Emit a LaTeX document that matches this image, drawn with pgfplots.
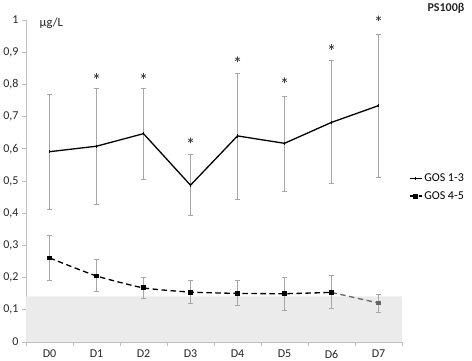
\documentclass[border=0pt]{standalone}
\usepackage{fontspec}
\setmainfont{Carlito}
\usepackage{pgfplots}
\pgfplotsset{compat=1.18}
\definecolor{band}{HTML}{EBEBEB}
\definecolor{errc}{HTML}{A6A6A6}
\definecolor{axc}{HTML}{BFBFBF}
\begin{document}
\begin{tikzpicture}[x=1pt,y=1pt]
\begin{axis}[
  at={(26pt,19pt)}, anchor=south west,
  scale only axis, width=376pt, height=322pt,
  xmin=-0.5, xmax=7.5, ymin=0, ymax=1,
  axis lines=left,
  axis line style={-, draw=axc, line width=0.8pt},
  tick align=outside,
  xtick={0,...,7},
  xticklabels={D0,D1,D2,D3,D4,D5,D6,D7},
  minor xtick={-0.5,0.5,...,7.5},
  x tick style={draw=none},
  minor x tick style={draw=axc, line width=0.8pt},
  minor tick length=4pt,
  ytick={0,0.1,...,1.01},
  y tick style={draw=axc, line width=0.8pt},
  major tick length=4pt,
  /pgf/number format/use comma,
  /pgf/number format/assume math mode=true,
  ticklabel style={font=\fontsize{12}{14}\selectfont, text=black!85},
  xticklabel style={yshift=-0.5pt},
  clip=false,
  legend style={at={(1.018,0.48)}, anchor=west, draw=none, fill=none,
    font=\fontsize{12}{14}\selectfont, row sep=4pt, inner sep=0pt},
  legend cell align=left,
  legend image code/.code={\draw[mark repeat=2,mark phase=2,#1] plot coordinates {(0pt,0pt)(6pt,0pt)(12pt,0pt)};},
  error bars/error bar style={draw=errc, line width=0.8pt, solid},
  error bars/error mark options={rotate=90, mark size=2.5pt, draw=errc, line width=0.8pt, solid},
]
% reference band
\addplot[fill=band, draw=none, forget plot] coordinates {(-0.5,0) (-0.5,0.142) (7.5,0.142) (7.5,0)} \closedcycle;

% error bars GOS 1-3
\addplot[draw=none, forget plot, error bars/.cd, y dir=both, y explicit]
  coordinates {
  (0,0.591) += (0,0.179) -= (0,0.180)
  (1,0.608) += (0,0.180) -= (0,0.180)
  (2,0.647) += (0,0.141) -= (0,0.142)
  (3,0.487) += (0,0.095) -= (0,0.093)
  (4,0.640) += (0,0.194) -= (0,0.196)
  (5,0.617) += (0,0.146) -= (0,0.148)
  (6,0.682) += (0,0.192) -= (0,0.191)
  (7,0.734) += (0,0.221) -= (0,0.222)
  };
% error bars GOS 4-5
\addplot[draw=none, forget plot, error bars/.cd, y dir=both, y explicit]
  coordinates {
  (0,0.261) += (0,0.069) -= (0,0.070)
  (1,0.205) += (0,0.050) -= (0,0.049)
  (2,0.168) += (0,0.034) -= (0,0.034)
  (3,0.155) += (0,0.035) -= (0,0.036)
  (4,0.151) += (0,0.039) -= (0,0.038)
  (5,0.150) += (0,0.052) -= (0,0.052)
  (6,0.154) += (0,0.052) -= (0,0.049)
  (7,0.121) += (0,0.028) -= (0,0.029)
  };

% GOS 1-3
\addplot[black, line width=1.3pt, mark=|, mark size=1.6pt, mark options={line width=0.9pt}]
  coordinates {
  (0,0.591) (1,0.608) (2,0.647) (3,0.487) (4,0.640) (5,0.617) (6,0.682) (7,0.734)
  };
\addlegendentry{GOS 1-3}

% GOS 4-5 (black part)
\addplot[black, line width=1.3pt, dash pattern=on 5.5pt off 3.5pt, smooth, tension=0.3,
  mark=square*, mark size=1.8pt, mark options={solid}]
  coordinates {
  (0,0.261) (1,0.205) (2,0.168) (3,0.155) (4,0.151) (5,0.150) (6,0.154)
  };
\addlegendentry{GOS 4-5}
\addplot[gray!80!black, line width=1.3pt, dash pattern=on 5.5pt off 3.5pt,
  mark=square*, mark size=1.8pt, mark options={solid}, mark indices={2}, forget plot]
  coordinates {(6,0.154) (7,0.121)};

% significance asterisks
\addplot[only marks, mark=asterisk, mark size=2.8pt, black!75, line width=0.7pt, forget plot]
  coordinates {(1,0.826) (2,0.826) (3,0.626) (4,0.878) (5,0.813) (6,0.916) (7,1.005)};

\node[anchor=west, font=\fontsize{12.5}{14}\selectfont, text=black!85] at (rel axis cs:0.027,0.99) {µg/L};
\node[anchor=center, font=\bfseries\fontsize{12}{14}\selectfont, text=black!85] at (rel axis cs:1.117,1.037) {PS100β};
\end{axis}
\pgfresetboundingbox
\path[use as bounding box] (0,0) rectangle (472pt,361pt);
\end{tikzpicture}
\end{document}
